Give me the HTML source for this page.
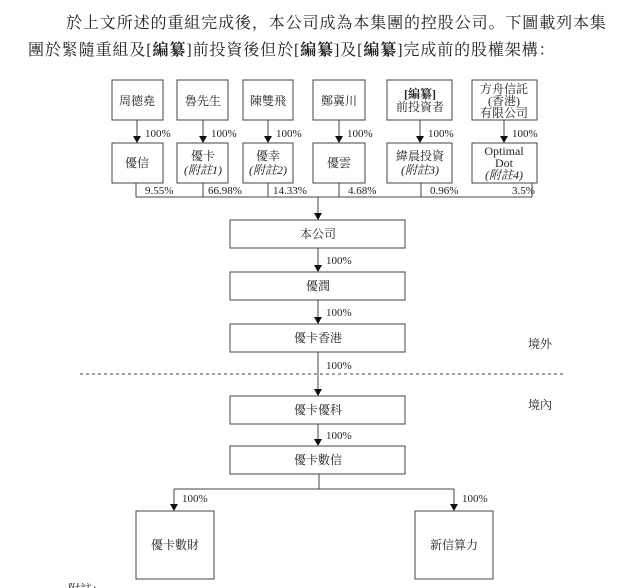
<!DOCTYPE html>
<html><head><meta charset="utf-8"><style>
body{margin:0;background:#fff;width:640px;height:588px;overflow:hidden;position:relative;font-family:"Liberation Serif","Noto Serif CJK SC",serif;color:#222}
.t{position:absolute;white-space:nowrap;font-size:16px}
</style></head><body>
<div class="t" style="left:66px;top:10px;letter-spacing:0.9px">於上文所述的重組完成後，本公司成為本集團的控股公司。下圖載列本集</div>
<div class="t" style="left:28px;top:37px;letter-spacing:0.9px">團於緊隨重組及[<b>編纂</b>]前投資後但於[<b>編纂</b>]及[<b>編纂</b>]完成前的股權架構：</div>
<svg width="640" height="588" style="position:absolute;left:0;top:0" font-family="Liberation Serif, Noto Serif CJK SC, serif" font-size="12" fill="#222">
<g stroke="#444" stroke-width="1" fill="none">
<rect x="112" y="80" width="51" height="40"/><rect x="177" y="80" width="51" height="40"/><rect x="243" y="80" width="50" height="40"/><rect x="313" y="80" width="52" height="40"/><rect x="387" y="80" width="65" height="40"/><rect x="472" y="80" width="65" height="40"/>
<rect x="112" y="143" width="51" height="40"/><rect x="177" y="143" width="51" height="40"/><rect x="243" y="143" width="50" height="40"/><rect x="313" y="143" width="52" height="40"/><rect x="387" y="143" width="65" height="40"/><rect x="472" y="143" width="65" height="40"/>
<path d="M137,120V137M203,120V137M268,120V137M339,120V137M420,120V137M504,120V137"/>
<path d="M136,183V197H532M203,183V197M268,183V197M339,183V197M421,183V197M532,183V197"/>
<path d="M318,197V214"/>
<rect x="230" y="220" width="175" height="28"/><rect x="230" y="272" width="175" height="28"/><rect x="230" y="324" width="175" height="28"/>
<rect x="230" y="396" width="175" height="28"/><rect x="230" y="446" width="175" height="28"/>
<path d="M318,248V266M318,300V318M318,352V390M318,424V440"/>
<path d="M80,374H565" stroke-dasharray="3,3"/>
<path d="M319,474V489M174,489H454M174,489V505M454,489V505"/>
<rect x="136" y="511" width="78" height="68"/><rect x="415" y="511" width="78" height="68"/>
</g>
<g fill="#111">
<polygon points="133,136 141,136 137,143"/><polygon points="199,136 207,136 203,143"/><polygon points="264,136 272,136 268,143"/><polygon points="335,136 343,136 339,143"/><polygon points="416,136 424,136 420,143"/><polygon points="500,136 508,136 504,143"/>
<polygon points="314,213 322,213 318,220"/><polygon points="314,265 322,265 318,272"/><polygon points="314,317 322,317 318,324"/><polygon points="314,389 322,389 318,396"/><polygon points="314,439 322,439 318,446"/>
<polygon points="170,504 178,504 174,511"/><polygon points="450,504 458,504 454,511"/>
</g>
<g text-anchor="middle">
<text x="137" y="105">周德堯</text><text x="203" y="105">魯先生</text><text x="268" y="105">陳雙飛</text><text x="339" y="105">鄭冀川</text>
<text x="420" y="98" font-weight="bold">[編纂]</text><text x="420" y="111">前投資者</text>
<text x="504" y="93">方舟信託</text><text x="504" y="105">(香港)</text><text x="504" y="117">有限公司</text>
<text x="137" y="167">優信</text><text x="203" y="160">優卡</text><text x="203" y="174" font-style="italic">(附註1)</text>
<text x="268" y="160">優幸</text><text x="268" y="174" font-style="italic">(附註2)</text><text x="339" y="167">優雲</text>
<text x="420" y="160">緯晨投資</text><text x="420" y="174" font-style="italic">(附註3)</text>
<text x="504" y="155">Optimal</text><text x="504" y="167">Dot</text><text x="504" y="179" font-style="italic">(附註4)</text>
<text x="318" y="238">本公司</text><text x="318" y="290">優潤</text><text x="318" y="342">優卡香港</text><text x="318" y="414">優卡優科</text><text x="318" y="464">優卡數信</text>
<text x="175" y="549">優卡數財</text><text x="454" y="549">新信算力</text>
</g>
<g font-size="11">
<text x="145" y="137">100%</text><text x="211" y="137">100%</text><text x="276" y="137">100%</text><text x="347" y="137">100%</text><text x="428" y="137">100%</text><text x="512" y="137">100%</text>
<text x="145" y="194">9.55%</text><text x="208" y="194">66.98%</text><text x="273" y="194">14.33%</text><text x="348" y="194">4.68%</text><text x="430" y="194">0.96%</text><text x="512" y="194">3.5%</text>
<text x="326" y="264">100%</text><text x="326" y="316">100%</text><text x="326" y="369">100%</text><text x="326" y="439">100%</text>
<text x="182" y="502">100%</text><text x="462" y="502">100%</text>
<text x="528" y="348" font-size="12">境外</text><text x="528" y="409" font-size="12">境內</text>
<text x="68" y="593" font-size="12">附註：</text>
</g>
</svg>
</body></html>
